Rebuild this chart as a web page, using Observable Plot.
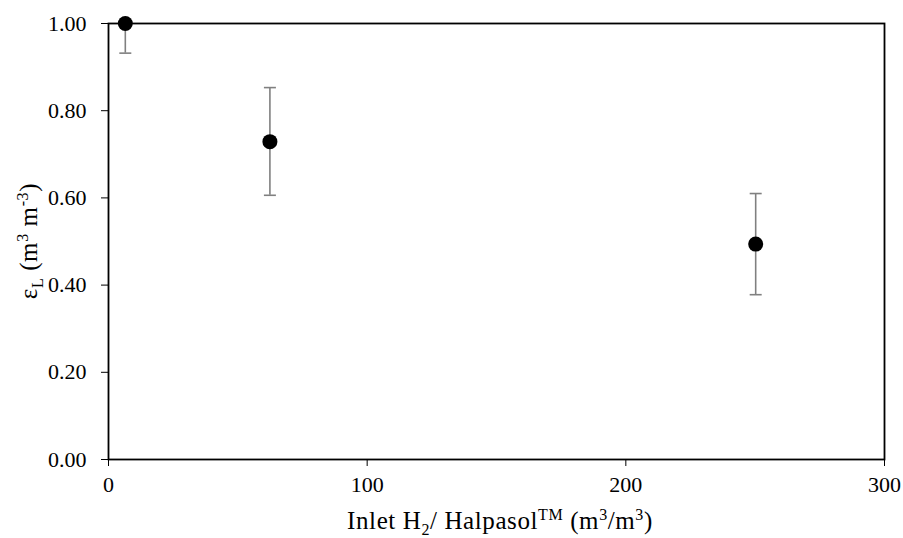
<!DOCTYPE html>
<html><head><meta charset="utf-8">
<script src="https://cdn.jsdelivr.net/npm/d3@7"></script>
<script src="https://cdn.jsdelivr.net/npm/@observablehq/plot@0.6"></script>
<style>
body{margin:0;background:#fff}
svg{font-family:"Liberation Serif","Times New Roman",serif}
</style>
</head><body><div id="chart"></div>
<script>
const ratio   = [6.5, 62.4, 250.2];
const holdup  = [1.00, 0.729, 0.494];
const errLow  = [0.932, 0.606, 0.378];
const errHigh = [1.068, 0.853, 0.610];
const xTicks = [0, 100, 200, 300];
const yTicks = [0, 0.2, 0.4, 0.6, 0.8, 1.0];

const data = ratio.map((x, i) => ({x, y: holdup[i], lo: errLow[i], hi: errHigh[i]}));
const cap = {draw(ctx) { ctx.moveTo(-6, 0); ctx.lineTo(6, 0); }};
const errColor = "#808080";

const plot = Plot.plot({
  width: 903, height: 538,
  marginLeft: 108, marginRight: 19, marginTop: 23, marginBottom: 79,
  style: {fontSize: "22px", fontFamily: '"Liberation Serif","Times New Roman",serif', color: "#000", background: "#fff"},
  x: {domain: [0, 300], ticks: xTicks, tickSize: 7, tickPadding: 10, label: null, tickFormat: d3.format("d")},
  y: {domain: [0, 1], ticks: yTicks, tickSize: 7, tickPadding: 15, label: null, tickFormat: d => d.toFixed(2)},
  marks: [
    Plot.frame({stroke: "#000", strokeWidth: 1.8}),
    Plot.ruleX(data, {x: "x", y1: "lo", y2: "hi", stroke: errColor, strokeWidth: 1.6, clip: true}),
    Plot.dot(data, {x: "x", y: "lo", symbol: cap, fill: "none", stroke: errColor, strokeWidth: 1.6, clip: true}),
    Plot.dot(data, {x: "x", y: "hi", symbol: cap, fill: "none", stroke: errColor, strokeWidth: 1.6, clip: true}),
    Plot.dot(data, {x: "x", y: "y", r: 7.5, fill: "#000", stroke: "none"})
  ]
});
document.getElementById("chart").appendChild(plot);

const svg = d3.select(plot);
const xl = svg.append("text")
  .attr("x", 500).attr("y", 529)
  .attr("text-anchor", "middle").attr("font-size", 25).attr("letter-spacing", 0.6).attr("fill", "#000");
xl.append("tspan").text("Inlet H");
xl.append("tspan").attr("font-size", 16).attr("dy", 6).text("2");
xl.append("tspan").attr("dy", -6).text("/ Halpasol");
xl.append("tspan").attr("font-size", 16).attr("dy", -9).text("TM");
xl.append("tspan").attr("dy", 9).text(" (m");
xl.append("tspan").attr("font-size", 16).attr("dy", -9).text("3");
xl.append("tspan").attr("dy", 9).text("/m");
xl.append("tspan").attr("font-size", 16).attr("dy", -9).text("3");
xl.append("tspan").attr("dy", 9).text(")");

const yl = svg.append("text")
  .attr("transform", "translate(37,241) rotate(-90)")
  .attr("text-anchor", "middle").attr("font-size", 25).attr("letter-spacing", 0.6).attr("fill", "#000");
yl.append("tspan").text("ε");
yl.append("tspan").attr("font-size", 16).attr("dy", 6).text("L");
yl.append("tspan").attr("dy", -6).text(" (m");
yl.append("tspan").attr("font-size", 16).attr("dy", -9).text("3");
yl.append("tspan").attr("dy", 9).text(" m");
yl.append("tspan").attr("font-size", 16).attr("dy", -9).text("-3");
yl.append("tspan").attr("dy", 9).text(")");
</script>
</body></html>
